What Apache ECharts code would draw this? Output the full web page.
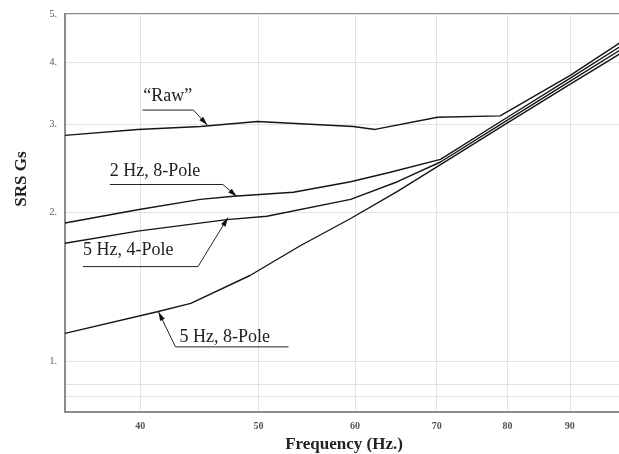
<!DOCTYPE html>
<html>
<head>
<meta charset="utf-8">
<script src="https://cdn.jsdelivr.net/npm/echarts@6/dist/echarts.min.js"></script>
<style>
html,body{margin:0;padding:0;background:#fff;}
#main{width:619px;height:454px;}
</style>
</head>
<body>
<div id="main"></div>
<script>
// axis ticks
var freqTicks = [40, 50, 60, 70, 80, 90];
var gTicks = [1, 2, 3, 4, 5];
var gMinor = [0.85, 0.9];

// curves (frequency Hz, SRS G)
var rawFreq = [34.7, 39.8, 44.8, 49.9, 59.8, 62.3, 70.1, 78.9, 90, 99.1];
var rawG    = [2.85, 2.93, 2.97, 3.04, 2.97, 2.93, 3.10, 3.12, 3.76, 4.39];

var p2h8Freq = [34.7, 39.8, 44.8, 47.7, 53.4, 59.5, 64, 70.5, 80, 90, 99.1];
var p2h8G    = [1.90, 2.02, 2.12, 2.15, 2.19, 2.30, 2.40, 2.55, 3.10, 3.71, 4.31];

var p5h4Freq = [34.7, 39.8, 47.1, 50.8, 59.5, 65, 70.5, 80, 90, 99.1];
var p5h4G    = [1.73, 1.83, 1.93, 1.96, 2.12, 2.30, 2.52, 3.06, 3.66, 4.24];

var p5h8Freq = [34.7, 41.3, 44.0, 49.2, 54.1, 59.5, 65, 70.5, 80, 90, 99.1];
var p5h8G    = [1.14, 1.26, 1.31, 1.49, 1.71, 1.94, 2.20, 2.49, 3.02, 3.61, 4.17];

// callouts: text and the curve point the arrow touches
var calloutText = ['\u201CRaw\u201D', '2 Hz, 8-Pole', '5 Hz, 4-Pole', '5 Hz, 8-Pole'];
var calloutFreq = [45.4, 48.0, 47.2, 41.4];
var calloutG    = [2.99, 2.148, 1.948, 1.259];

function lg(v){ return Math.log(v) / Math.LN10; }
function pairs(f, g){
    var out = [];
    for (var i = 0; i < f.length; i++) out.push([lg(f[i]), lg(g[i])]);
    return out;
}

var serif = '"Liberation Serif", "Times New Roman", serif';
var chart = echarts.init(document.getElementById('main'));

function lineSeries(name, f, g){
    return {
        name: name,
        type: 'line',
        data: pairs(f, g),
        showSymbol: false,
        silent: true,
        lineStyle: {color: '#151515', width: 1.4},
        z: 3
    };
}

var option = {
    animation: false,
    backgroundColor: '#fff',
    grid: {left: 65, right: -4, top: 14, bottom: 42, outerBoundsMode: 'none', containLabel: false,
           show: true, borderColor: '#8c8c8c', borderWidth: 2},
    xAxis: {
        type: 'value',
        min: lg(34.7),
        max: lg(99.5),
        axisLine: {show: true, onZero: false, lineStyle: {color: '#8c8c8c', width: 2}},
        axisTick: {show: false, customValues: freqTicks.map(lg)},
        axisLabel: {
            customValues: freqTicks.map(lg),
            formatter: function(v){ return Math.round(Math.pow(10, v)); },
            fontFamily: serif, fontSize: 10, fontWeight: 'bold', color: '#555', margin: 9
        },
        splitLine: {show: true, lineStyle: {color: '#e2e2e2', width: 1}},
        name: 'Frequency (Hz.)',
        nameLocation: 'middle',
        nameGap: 21,
        nameTextStyle: {fontFamily: serif, fontSize: 17, fontWeight: 'bold', color: '#222'}
    },
    yAxis: {
        type: 'value',
        min: lg(0.792),
        max: lg(5),
        axisLine: {show: true, onZero: false, lineStyle: {color: '#8c8c8c', width: 2}},
        axisTick: {show: false, customValues: gMinor.concat(gTicks).map(lg)},
        axisLabel: {
            customValues: gTicks.map(lg),
            formatter: function(v){ return Math.round(Math.pow(10, v)) + '.'; },
            fontFamily: serif, fontSize: 10, color: '#555', margin: 8
        },
        splitLine: {show: true, lineStyle: {color: '#e2e2e2', width: 1}}
    },
    series: [
        lineSeries('Raw', rawFreq, rawG),
        lineSeries('2 Hz, 8-Pole', p2h8Freq, p2h8G),
        lineSeries('5 Hz, 4-Pole', p5h4Freq, p5h4G),
        lineSeries('5 Hz, 8-Pole', p5h8Freq, p5h8G)
    ]
};
chart.setOption(option);

// callout layout relative to the arrow tip: underline from u0 to u1 at uy, leader from (u1,uy) to tip
var layout = [
    {u0: -65,  u1: -14, uy: -15, tx: -64,  ty: -29},
    {u0: -127, u1: -14, uy: -12, tx: -127, ty: -25},
    {u0: -145, u1: -30, uy: 49,  tx: -145, ty: 33},
    {u0: 130,  u1: 17,  uy: 35,  tx: 21,   ty: 25}
];

var graphics = [{
    type: 'text',
    x: 22, y: 179,
    rotation: Math.PI / 2,
    style: {text: 'SRS Gs', font: 'bold 17px ' + serif, fill: '#222', align: 'center', verticalAlign: 'middle'}
}];

for (var i = 0; i < calloutText.length; i++){
    var tip = chart.convertToPixel({gridIndex: 0}, [lg(calloutFreq[i]), lg(calloutG[i])]);
    var L = layout[i];
    var s = [tip[0] + L.u1, tip[1] + L.uy];
    graphics.push({
        type: 'polyline',
        shape: {points: [[tip[0] + L.u0, tip[1] + L.uy], s, tip]},
        style: {stroke: '#222', lineWidth: 1, fill: null},
        z: 10
    });
    var dx = tip[0] - s[0], dy = tip[1] - s[1];
    var len = Math.sqrt(dx * dx + dy * dy);
    dx /= len; dy /= len;
    var bx = tip[0] - dx * 9, by = tip[1] - dy * 9;
    graphics.push({
        type: 'polygon',
        shape: {points: [tip, [bx - dy * 2.6, by + dx * 2.6], [bx + dy * 2.6, by - dx * 2.6]]},
        style: {fill: '#111'},
        z: 11
    });
    graphics.push({
        type: 'text',
        x: tip[0] + L.tx, y: tip[1] + L.ty,
        style: {text: calloutText[i], font: '18px ' + serif, fill: '#222', align: 'left', verticalAlign: 'middle'},
        z: 11
    });
}
chart.setOption({graphic: graphics});
</script>
</body>
</html>
